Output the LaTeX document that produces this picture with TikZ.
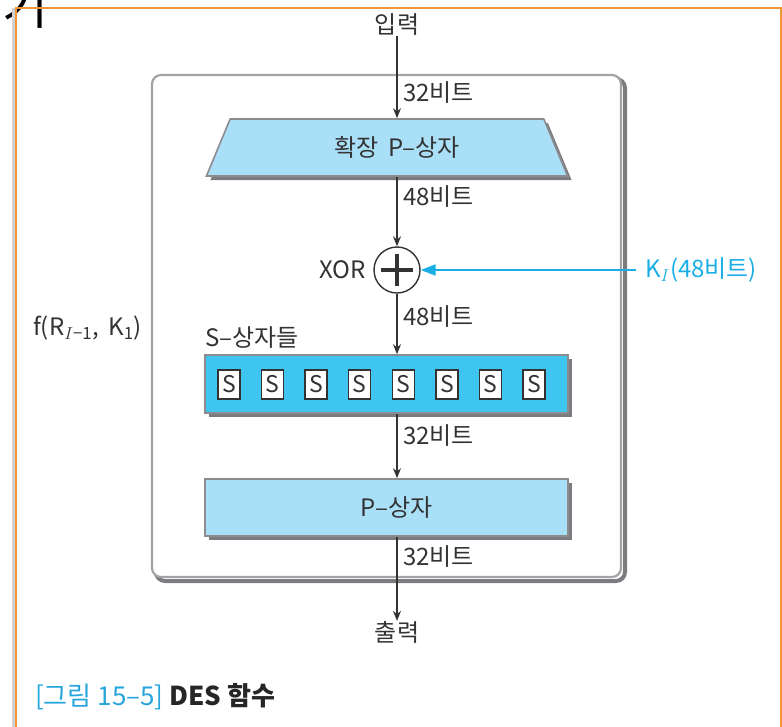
\documentclass[tikz,border=0pt]{standalone}
\usepackage{fontspec}
\setmainfont{Noto Sans CJK KR}
\usetikzlibrary{arrows.meta,shapes.geometric,shadows}
\definecolor{frameorange}{HTML}{F0963A}
\definecolor{boxblue}{HTML}{AADFF8}
\definecolor{barblue}{HTML}{3EC5F0}
\definecolor{keyblue}{HTML}{1AAEE6}
\definecolor{capblue}{HTML}{27A6DD}
\definecolor{edgegray}{HTML}{8C8C8E}
\definecolor{shadegray}{HTML}{7C7C80}
\definecolor{inkgray}{HTML}{333333}
\tikzset{
  lbl/.style={font=\fontsize{24}{28}\selectfont, text=inkgray, inner sep=0pt},
  bits/.style={lbl, anchor=west},
  flow/.style={draw=inkgray, line width=1.4pt, -{Stealth[length=10pt,width=8pt]}},
  boxshade/.style={drop shadow={shadow xshift=4pt, shadow yshift=-4pt, fill=shadegray, opacity=1}},
  bluebox/.style={draw=edgegray, line width=1.6pt, fill=boxblue, boxshade, lbl},
  sbox/.style={draw=inkgray, line width=1.3pt, fill=white, minimum width=22pt, minimum height=29pt,
    inner sep=0pt, font=\fontsize{23}{26}\selectfont, text=inkgray}
}
\begin{document}
\begin{tikzpicture}[x=1pt,y=-1pt]
\useasboundingbox (0,0) rectangle (782,726);

% page frame and the clipped heading glyph above it
\begin{scope}
  \clip (0,0) rectangle (782,726);
  \node[font=\fontsize{50}{52}\selectfont, inner sep=0pt, anchor=center] (head) at (25,6) {기};
  \fill[black!18] (11.5,8) rectangle (15,740);
  \draw[frameorange, line width=2pt] (16,740) -- (16,8) -- (780.5,8) -- (780.5,740);
\end{scope}

% rounded frame of the round function
\draw[shadegray, line width=4pt, rounded corners=9pt] (156,79) rectangle (625,581);
\draw[edgegray!80, line width=2.2pt, fill=white, rounded corners=9pt] (152,75) rectangle (621,577);

% input
\node[lbl] (in) at (397,25) {입력};

% expansion permutation
\node[trapezium, trapezium stretches=true, trapezium angle=63.4,
      minimum width=362pt, minimum height=57pt, bluebox] (exp) at (387,147.5) {\hspace*{20pt}확장\hspace{4pt} P–상자};

% XOR
\node[circle, draw=inkgray, line width=1.4pt, fill=white, minimum size=46pt, inner sep=0pt] (xor) at (397,270) {};
\draw[inkgray, line width=3.2pt] ([xshift=-16pt]xor.center) -- ([xshift=16pt]xor.center);
\draw[inkgray, line width=3.2pt] ([yshift=-16pt]xor.center) -- ([yshift=16pt]xor.center);
\node[lbl, anchor=east] (xorlbl) at (366,270) {XOR};

% round key
\coordinate (kstart) at (636,270);
\node[lbl, anchor=west, text=keyblue] (key) at (645,270) {K\textsubscript{$I$}(48비트)};
\draw[keyblue, line width=2pt, -{Triangle[length=15pt,width=11pt]}] (kstart) -- (xor.east);

% S-boxes
\node[lbl, anchor=west] (slbl) at (205,338) {S–상자들};
\node[draw=edgegray, line width=1.6pt, fill=barblue, boxshade, minimum width=363pt, minimum height=58pt, inner sep=0pt] (sbar) at (386.5,384) {};
\foreach \i in {0,...,7} {
  \node[sbox] (s\i) at ({229+43.57*\i},384.5) {S};
}

% straight permutation
\node[bluebox, minimum width=363pt, minimum height=57pt] (pbox) at (386.5,507.5) {\hspace*{20pt}P–상자};

% output
\node[lbl] (out) at (397,632) {출력};

% function label
\node[lbl, anchor=west] (fname) at (33,328) {f(R\textsubscript{$I$−1},\, K\textsubscript{1})};

% data path
\draw[flow] (in.south) -- (in.south |- exp.north);
\draw[flow] (xor.north |- exp.south) -- (xor.north);
\draw[flow] (xor.south) -- (xor.south |- sbar.north);
\draw[flow] (xor.south |- sbar.south) -- (xor.south |- pbox.north);
\draw[flow] (xor.south |- pbox.south) -- (out.north);

% bit widths
\node[bits] (b1) at (403,93) {32비트};
\node[bits] (b2) at (403,197) {48비트};
\node[bits] (b3) at (403,317) {48비트};
\node[bits] (b4) at (403,436) {32비트};
\node[bits] (b5) at (403,557) {32비트};

% caption
\node[anchor=west, inner sep=0pt, font=\fontsize{26}{30}\selectfont] (cap) at (35,697)
  {\textcolor{capblue}{[그림 15–5]} \textcolor{black!85}{\bfseries DES 함수}};
\end{tikzpicture}
\end{document}
